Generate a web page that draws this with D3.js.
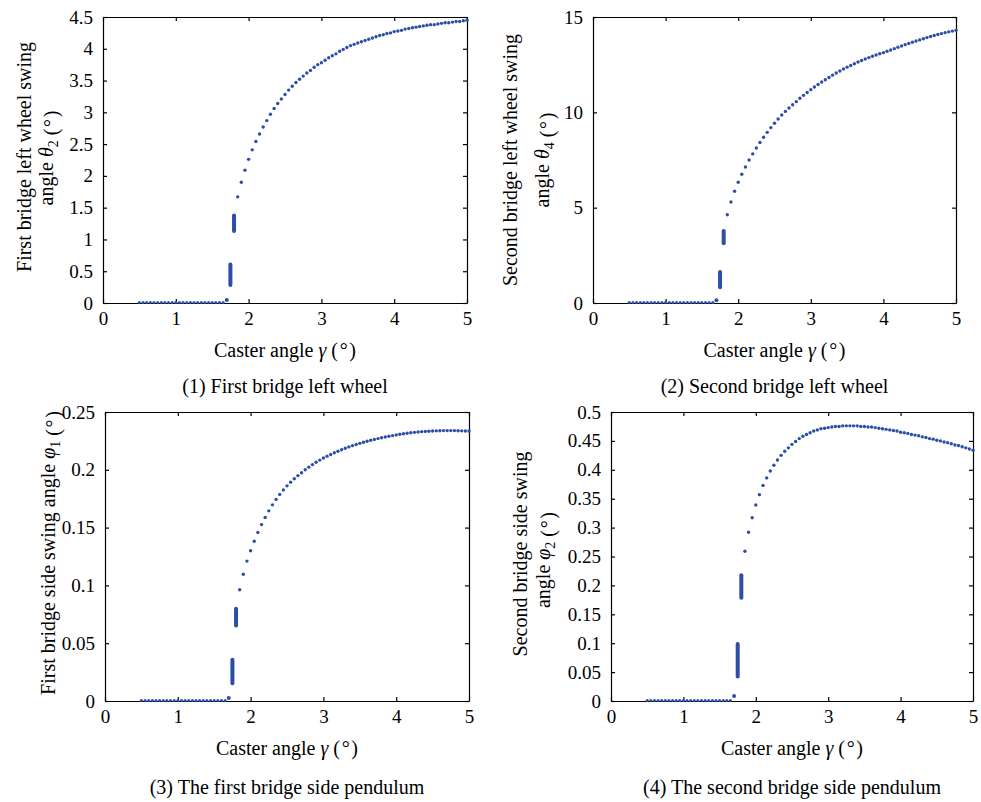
<!DOCTYPE html>
<html>
<head>
<meta charset="utf-8">
<script src="https://cdnjs.cloudflare.com/ajax/libs/d3/7.8.5/d3.min.js"></script>
<style>
body { margin: 0; background: #fff; }
svg { display: block; font-family: "Liberation Serif", "Times New Roman", serif; }
.axis path, .axis line { stroke: #000; stroke-width: 1.2; }
.axis text { font-size: 19px; fill: #000; font-family: "Liberation Serif", serif; }
.title { font-size: 20px; fill: #000; }
</style>
</head>
<body>
<svg id="chart" width="981" height="802"></svg>
<script>
// caster angle samples (deg)
var gammaTicks = [0, 1, 2, 3, 4, 5];
var flatGamma = [0.5, 0.55, 0.6, 0.65, 0.7, 0.75, 0.8, 0.85, 0.9, 0.95, 1, 1.05,
	1.1, 1.15, 1.2, 1.25, 1.3, 1.35, 1.4, 1.45, 1.5, 1.55, 1.6, 1.65];
var curveGamma = [1.85, 1.9, 1.95, 2, 2.05, 2.1, 2.15, 2.2, 2.25, 2.3,
	2.35, 2.4, 2.45, 2.5, 2.55, 2.6, 2.65, 2.7, 2.75, 2.8,
	2.85, 2.9, 2.95, 3, 3.05, 3.1, 3.15, 3.2, 3.25, 3.3,
	3.35, 3.4, 3.45, 3.5, 3.55, 3.6, 3.65, 3.7, 3.75, 3.8,
	3.85, 3.9, 3.95, 4, 4.05, 4.1, 4.15, 4.2, 4.25, 4.3,
	4.35, 4.4, 4.45, 4.5, 4.55, 4.6, 4.65, 4.7, 4.75, 4.8,
	4.85, 4.9, 4.95, 5];
var onsetGamma = 1.7;
var jumpGamma = [1.75, 1.8];

// (1) first bridge left wheel, theta2
var theta2Ticks = [0, 0.5, 1, 1.5, 2, 2.5, 3, 3.5, 4, 4.5];
var theta2Onset = 0.03;
var theta2Jump = [[0.26, 0.63], [1.11, 1.40]];
var theta2 = [1.67, 1.90, 2.09, 2.26, 2.41, 2.54, 2.66, 2.77, 2.87, 2.97,
	3.06, 3.14, 3.21, 3.28, 3.35, 3.41, 3.47, 3.52, 3.57, 3.62,
	3.66, 3.71, 3.75, 3.78, 3.82, 3.86, 3.89, 3.92, 3.96, 3.99,
	4.02, 4.05, 4.07, 4.09, 4.11, 4.13, 4.15, 4.17, 4.19, 4.21,
	4.22, 4.24, 4.25, 4.27, 4.28, 4.29, 4.31, 4.32, 4.33, 4.34,
	4.35, 4.36, 4.37, 4.38, 4.38, 4.39, 4.40, 4.41, 4.41, 4.42,
	4.43, 4.43, 4.44, 4.45];

// (2) second bridge left wheel, theta4
var theta4Ticks = [0, 5, 10, 15];
var theta4Onset = 0.09;
var theta4Jump = [[0.75, 1.71], [3.06, 3.85]];
var theta4 = [4.63, 5.30, 5.86, 6.33, 6.75, 7.13, 7.50, 7.82, 8.13, 8.42,
	8.69, 8.95, 9.20, 9.43, 9.65, 9.86, 10.05, 10.23, 10.40, 10.56,
	10.74, 10.89, 11.04, 11.19, 11.33, 11.46, 11.59, 11.71, 11.83, 11.95,
	12.06, 12.17, 12.27, 12.37, 12.46, 12.55, 12.64, 12.72, 12.80, 12.87,
	12.94, 13.01, 13.07, 13.13, 13.20, 13.27, 13.34, 13.41, 13.48, 13.55,
	13.61, 13.68, 13.74, 13.80, 13.86, 13.92, 13.98, 14.03, 14.08, 14.13,
	14.18, 14.22, 14.26, 14.30];

// (3) first bridge side pendulum, phi1
var phi1Ticks = [0, 0.05, 0.1, 0.15, 0.2, 0.25];
var phi1Onset = 0.0017;
var phi1Jump = [[0.014, 0.037], [0.064, 0.081]];
var phi1 = [0.0963, 0.1096, 0.1210, 0.1300, 0.1382, 0.1458, 0.1526, 0.1588, 0.1645, 0.1697,
	0.1744, 0.1787, 0.1826, 0.1861, 0.1893, 0.1923, 0.1950, 0.1975, 0.2000, 0.2023,
	0.2045, 0.2065, 0.2084, 0.2102, 0.2118, 0.2133, 0.2147, 0.2161, 0.2174, 0.2186,
	0.2198, 0.2209, 0.2219, 0.2229, 0.2238, 0.2247, 0.2255, 0.2263, 0.2270, 0.2277,
	0.2284, 0.2290, 0.2296, 0.2302, 0.2307, 0.2312, 0.2316, 0.2320, 0.2324, 0.2327,
	0.2330, 0.2332, 0.2334, 0.2336, 0.2337, 0.2338, 0.2339, 0.2339, 0.2339, 0.2339,
	0.2338, 0.2337, 0.2336, 0.2335];

// (4) second bridge side pendulum, phi2
var phi2Ticks = [0, 0.05, 0.1, 0.15, 0.2, 0.25, 0.3, 0.35, 0.4, 0.45, 0.5];
var phi2Onset = 0.007;
var phi2Jump = [[0.040, 0.101], [0.176, 0.220]];
var phi2 = [0.259, 0.292, 0.317, 0.339, 0.357, 0.373, 0.386, 0.398, 0.408, 0.417,
	0.425, 0.432, 0.438, 0.444, 0.449, 0.454, 0.458, 0.461, 0.464, 0.467,
	0.469, 0.471, 0.472, 0.473, 0.474, 0.475, 0.475, 0.476, 0.476, 0.476,
	0.476, 0.476, 0.475, 0.475, 0.474, 0.474, 0.473, 0.472, 0.471, 0.470,
	0.469, 0.468, 0.467, 0.465, 0.464, 0.463, 0.461, 0.460, 0.459, 0.457,
	0.456, 0.454, 0.453, 0.451, 0.450, 0.448, 0.447, 0.445, 0.443, 0.442,
	0.440, 0.438, 0.436, 0.434];

var dotColor = "#2c4ea6";
var degree = " (\u200a\u00b0\u200a)";
var svg = d3.select("#chart");

var panels = [
	{left: 103, top: 17, width: 364, height: 286, yMax: 4.5, ticks: theta2Ticks,
	 values: theta2, onset: theta2Onset, jump: theta2Jump,
	 yTitle: [["First bridge left wheel swing"], ["angle ", ["\u03b8", "i"], ["2", "sub"], degree]],
	 yTitleX: [31, 53], yTitleY: [157, 158],
	 xTitleY: 357, caption: "(1) First bridge left wheel", captionY: 393},
	{left: 593, top: 17, width: 363, height: 286, yMax: 15, ticks: theta4Ticks,
	 values: theta4, onset: theta4Onset, jump: theta4Jump,
	 yTitle: [["Second bridge left wheel swing"], ["angle ", ["\u03b8", "i"], ["4", "sub"], degree]],
	 yTitleX: [517, 549], yTitleY: [160, 160],
	 xTitleY: 357, caption: "(2) Second bridge left wheel", captionY: 393},
	{left: 105, top: 412, width: 364, height: 289, yMax: 0.25, ticks: phi1Ticks,
	 values: phi1, onset: phi1Onset, jump: phi1Jump,
	 yTitle: [["First bridge side swing angle ", ["\u03c6", "i"], ["1", "sub"], degree]],
	 yTitleX: [55], yTitleY: [553],
	 xTitleY: 755, caption: "(3) The first bridge side pendulum", captionY: 794},
	{left: 611, top: 412, width: 362, height: 289, yMax: 0.5, ticks: phi2Ticks,
	 values: phi2, onset: phi2Onset, jump: phi2Jump,
	 yTitle: [["Second bridge side swing"], ["angle ", ["\u03c6", "i"], ["2", "sub"], degree]],
	 yTitleX: [527, 550], yTitleY: [554, 560],
	 xTitleY: 755, caption: "(4) The second bridge side pendulum", captionY: 794}
];

// write a text run made of plain strings and [text, style] pieces
function addRuns(text, runs) {
	runs.forEach(function (r) {
		if (typeof r === "string") { text.append("tspan").text(r); return; }
		var t = text.append("tspan").text(r[0]);
		if (r[1] === "i") t.attr("font-style", "italic");
		if (r[1] === "sub") t.attr("font-size", "14px").attr("dy", "5");
		if (r[1] === "sub") text.append("tspan").attr("dy", "-5").text("");
	});
}

function drawPanel(p) {
	var x = d3.scaleLinear().domain([0, 5]).range([p.left, p.left + p.width]);
	var y = d3.scaleLinear().domain([0, p.yMax]).range([p.top + p.height, p.top]);
	var g = svg.append("g");
	var fmt = d3.format("~g");

	// box with inward ticks on all four sides
	g.append("g").attr("class", "axis")
		.attr("transform", "translate(0," + (p.top + p.height) + ")")
		.call(d3.axisBottom(x).tickValues(gammaTicks).tickFormat(fmt)
			.tickSizeInner(-4).tickSizeOuter(0).tickPadding(9));
	g.append("g").attr("class", "axis")
		.attr("transform", "translate(0," + p.top + ")")
		.call(d3.axisTop(x).tickValues(gammaTicks).tickFormat("")
			.tickSizeInner(-4).tickSizeOuter(0));
	g.append("g").attr("class", "axis")
		.attr("transform", "translate(" + p.left + ",0)")
		.call(d3.axisLeft(y).tickValues(p.ticks).tickFormat(fmt)
			.tickSizeInner(-4).tickSizeOuter(0).tickPadding(10));
	g.append("g").attr("class", "axis")
		.attr("transform", "translate(" + (p.left + p.width) + ",0)")
		.call(d3.axisRight(y).tickValues(p.ticks).tickFormat("")
			.tickSizeInner(-4).tickSizeOuter(0));

	// zero branch
	g.append("g").selectAll("circle").data(flatGamma).join("circle")
		.attr("cx", function (d) { return x(d); })
		.attr("cy", y(0) - 0.5)
		.attr("r", 1.5)
		.attr("fill", dotColor);

	// onset point
	g.append("circle")
		.attr("cx", x(onsetGamma)).attr("cy", y(p.onset) - 1)
		.attr("r", 2).attr("fill", dotColor);

	// dense vertical runs at the jump
	g.append("g").selectAll("line").data(p.jump).join("line")
		.attr("x1", function (d, i) { return x(jumpGamma[i]); })
		.attr("x2", function (d, i) { return x(jumpGamma[i]); })
		.attr("y1", function (d) { return y(d[0]) - 1.5; })
		.attr("y2", function (d) { return y(d[1]) + 1.5; })
		.attr("stroke", dotColor).attr("stroke-width", 4)
		.attr("stroke-linecap", "round");

	// upper branch
	g.append("g").selectAll("circle").data(p.values).join("circle")
		.attr("cx", function (d, i) { return x(curveGamma[i]); })
		.attr("cy", function (d) { return y(d); })
		.attr("r", 1.7)
		.attr("fill", dotColor);

	// x title
	var xt = g.append("text").attr("class", "title")
		.attr("x", p.left + p.width / 2).attr("y", p.xTitleY)
		.attr("text-anchor", "middle");
	addRuns(xt, ["Caster angle ", ["\u03b3", "i"], degree]);

	// y title lines
	p.yTitle.forEach(function (line, i) {
		var t = g.append("text").attr("class", "title")
			.attr("text-anchor", "middle")
			.attr("transform", "translate(" + p.yTitleX[i] + "," + p.yTitleY[i] + ") rotate(-90)");
		addRuns(t, line);
	});

	// caption
	g.append("text").attr("class", "title")
		.attr("x", p.left + p.width / 2).attr("y", p.captionY)
		.attr("text-anchor", "middle")
		.text(p.caption);
}

panels.forEach(drawPanel);
</script>
</body>
</html>
